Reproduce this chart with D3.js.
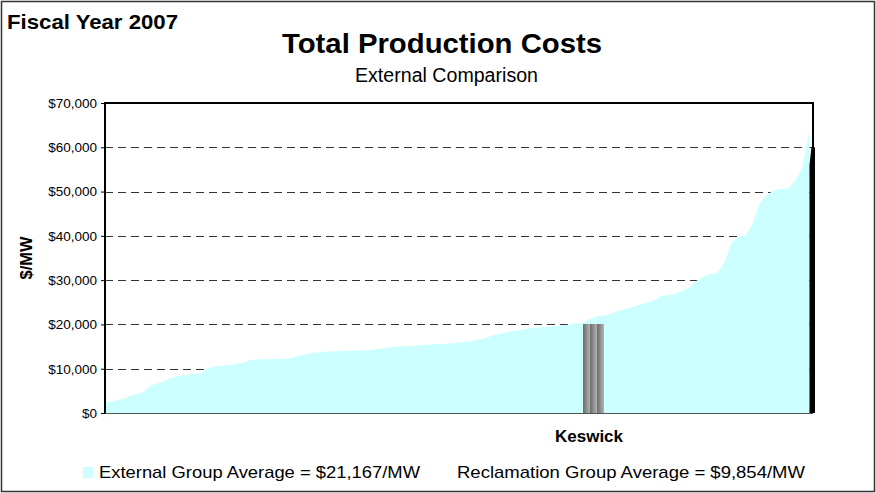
<!DOCTYPE html>
<html>
<head>
<meta charset="utf-8">
<script src="https://cdn.jsdelivr.net/npm/d3@7"></script>
<style>
  body { margin: 0; background: #fff; }
  text { font-family: "Liberation Sans", Arial, sans-serif; fill: #000; }
</style>
</head>
<body>
<div id="holder"></div>
<script>
// plant costs, sorted ascending ($/MW)
var plantCosts = [
  2400, 2800, 3150, 3850, 4300, 4800, 6200, 6800, 7300, 8100,
  8350, 8650, 8800, 9000, 10100, 10500, 10700, 10800, 11100, 11300,
  11950, 12100, 12150, 12200, 12220, 12250, 12500, 13000, 13300, 13600,
  13750, 13850, 13950, 14000, 14050, 14100, 14130, 14200, 14450, 14700,
  14900, 15000, 15100, 15200, 15300, 15400, 15500, 15600, 15700, 15800,
  15950, 16200, 16500, 16800, 17400, 17800, 18100, 18400, 18700, 18950,
  19200, 19350, 19500, 19650, 19800, 19950, 20150, 20460, 21300, 21850,
  22000, 22400, 23100, 23500, 23900, 24500, 24900, 25300, 26400, 26600,
  26900, 27500, 28300, 29800, 30840, 31450, 31600, 34000, 38500, 39900,
  40050, 42900, 47500, 49300, 50300, 50600, 50650, 52500, 55500, 63900
];
var keswickName = 'Keswick';
var keswickValue = 20100;
var keswickRank = 68.5;
var lastPlantValue = 60000;
var yTicks = [0, 10000, 20000, 30000, 40000, 50000, 60000, 70000];
var legendLabels = ['External Group Average = $21,167/MW', 'Reclamation Group Average = $9,854/MW'];

var W = 876, H = 493;
var plot = {left: 105, right: 813, top: 103, bottom: 413};

var svg = d3.select('#holder').append('svg').attr('width', W).attr('height', H);

svg.append('rect').attr('x', 1.5).attr('y', 1.5).attr('width', W - 3).attr('height', H - 3)
  .attr('fill', '#fff').attr('stroke', '#333').attr('stroke-width', 1.5);

var x = d3.scaleLinear().domain([-0.5, plantCosts.length - 0.5]).range([plot.left, plot.right]);
var y = d3.scaleLinear().domain([0, 70000]).range([plot.bottom, plot.top]);

// gridlines
svg.append('g').selectAll('line').data(yTicks.filter(function(d) { return d > 0 && d < 70000; }))
  .enter().append('line')
  .attr('x1', plot.left).attr('x2', plot.right)
  .attr('y1', function(d) { return Math.round(y(d)) + 0.5; })
  .attr('y2', function(d) { return Math.round(y(d)) + 0.5; })
  .attr('stroke', '#333').attr('stroke-width', 1).attr('stroke-dasharray', '8,5');

// area of all plants
var area = d3.area()
  .x(function(d, i) { return x(i); })
  .y0(y(0))
  .y1(function(d) { return y(d); });
svg.append('path')
  .datum(plantCosts)
  .attr('d', area)
  .attr('fill', '#ccffff');
// extend to left axis
svg.append('rect').attr('x', plot.left).attr('y', y(plantCosts[0])).attr('width', x(0) - plot.left + 0.5)
  .attr('height', y(0) - y(plantCosts[0])).attr('fill', '#ccffff');

// last plant in black
var lastX = x(plantCosts.length - 1);
svg.append('path')
  .attr('d', 'M' + lastX + ',' + y(0) + 'L' + lastX + ',' + y(lastPlantValue - 4000) + 'L' + (lastX + 2) + ',' + y(lastPlantValue) +
    'L' + (plot.right + 2) + ',' + y(lastPlantValue) + 'L' + (plot.right + 2) + ',' + y(0) + 'Z')
  .attr('fill', '#000');

// keswick bar, gradient stripes
var defs = svg.append('defs');
var grad = defs.append('linearGradient').attr('id', 'kgrad').attr('x1', '0%').attr('x2', '100%');
grad.append('stop').attr('offset', '0%').attr('stop-color', '#6a6a6a');
grad.append('stop').attr('offset', '100%').attr('stop-color', '#b4b4b4');
var kw = 21, kx = x(keswickRank) - kw / 2;
svg.append('g').selectAll('rect').data([0, 1, 2]).enter().append('rect')
  .attr('x', function(d) { return kx + d * kw / 3; })
  .attr('y', y(keswickValue))
  .attr('width', kw / 3).attr('height', y(0) - y(keswickValue))
  .attr('fill', 'url(#kgrad)');

// frame
svg.append('line').attr('x1', plot.left).attr('x2', plot.right).attr('y1', plot.bottom + 0.5).attr('y2', plot.bottom + 0.5)
  .attr('stroke', '#555').attr('stroke-width', 1);
svg.append('path')
  .attr('d', 'M' + plot.left + ',' + plot.bottom + 'V' + plot.top + 'H' + plot.right + 'V' + plot.bottom)
  .attr('fill', 'none').attr('stroke', '#000').attr('stroke-width', 2);

// y axis
var yAxis = d3.axisLeft(y).tickValues(yTicks).tickSize(4).tickPadding(4)
  .tickFormat(function(d) { return '$' + d3.format(',')(d); });
var ya = svg.append('g').attr('transform', 'translate(' + plot.left + ',0)').call(yAxis);
ya.select('.domain').remove();
ya.selectAll('line').attr('stroke', '#000');
ya.selectAll('text').style('font-size', '13.5px').style('font-family', '"Liberation Sans", Arial, sans-serif').attr('fill', '#222');

svg.append('text').attr('transform', 'translate(32,' + 258 + ') rotate(-90)')
  .attr('text-anchor', 'middle').style('font-size', '17px').style('font-weight', 'bold')
  .attr('textLength', 43).attr('lengthAdjust', 'spacingAndGlyphs').text('$/MW');

// category label
svg.append('text').attr('x', 589).attr('y', 442).attr('text-anchor', 'middle')
  .style('font-size', '17px').style('font-weight', 'bold').text(keswickName);

// titles
svg.append('text').attr('x', 7).attr('y', 29).style('font-size', '21px').style('font-weight', 'bold')
  .attr('textLength', 171).attr('lengthAdjust', 'spacingAndGlyphs').text('Fiscal Year 2007');
svg.append('text').attr('x', 282).attr('y', 53)
  .style('font-size', '28px').style('font-weight', 'bold')
  .attr('textLength', 320).attr('lengthAdjust', 'spacingAndGlyphs').text('Total Production Costs');
svg.append('text').attr('x', 355).attr('y', 82)
  .style('font-size', '20px')
  .attr('textLength', 183).attr('lengthAdjust', 'spacingAndGlyphs').text('External Comparison');

// legend
svg.append('rect').attr('x', 83).attr('y', 467).attr('width', 10).attr('height', 11).attr('fill', '#ccffff');
svg.append('text').attr('x', 99).attr('y', 478).style('font-size', '17px')
  .attr('textLength', 321).attr('lengthAdjust', 'spacingAndGlyphs').text(legendLabels[0]);
svg.append('text').attr('x', 457).attr('y', 478).style('font-size', '17px')
  .attr('textLength', 348).attr('lengthAdjust', 'spacingAndGlyphs').text(legendLabels[1]);
</script>
</body>
</html>
